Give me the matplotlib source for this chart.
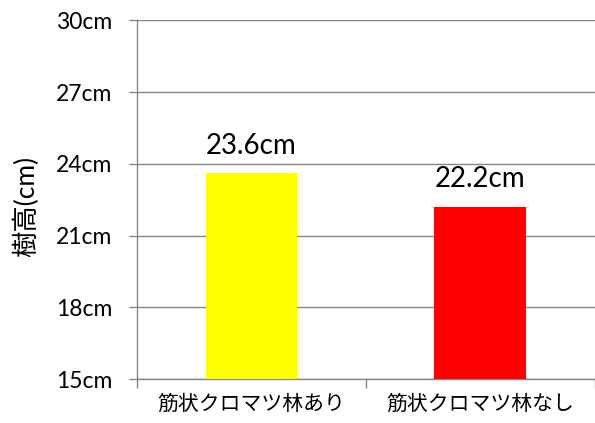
import matplotlib.pyplot as plt

# tree height by site
categories = ["筋状クロマツ林あり", "筋状クロマツ林なし"]
heights = [23.6, 22.2]
bar_colors = ["#FFFF00", "#FF0000"]
yticks = [15, 18, 21, 24, 27, 30]

plt.rcParams['font.family'] = ['Lato', 'Noto Sans CJK JP']
grey = "#868686"

fig = plt.figure(figsize=(5.95, 4.23), dpi=100)
ax = fig.add_axes([137/595, 44/423, 457.5/595, 358.5/423])

x = list(range(len(categories)))
ax.bar(x, heights, width=0.4, color=bar_colors, zorder=3)
for xi, h in zip(x, heights):
    ax.annotate("%.1fcm" % h, (xi, h), xytext=(0, 14), textcoords="offset points",
                ha="center", va="baseline", fontsize=20)

ax.set_xlim(-0.5, 1.5)
ax.set_ylim(15, 30)
ax.set_yticks(yticks)
ax.set_yticklabels(["%dcm" % v for v in yticks], fontsize=16.5)
ax.set_xticks(x)
ax.set_xticklabels(categories, fontsize=15, family=['Noto Sans CJK JP'])
ax.set_xticks([-0.5, 0.5, 1.5], minor=True)

ax.tick_params(axis="y", length=6, width=1, color=grey, pad=12)
ax.tick_params(axis="x", which="major", length=0, pad=10)
ax.tick_params(axis="x", which="minor", length=6.5, width=1, color=grey)

ax.grid(axis="y", color=grey, linewidth=1, zorder=0)
for side in ["top", "right"]:
    ax.spines[side].set_visible(False)
for side in ["left", "bottom"]:
    ax.spines[side].set_color(grey)
    ax.spines[side].set_linewidth(1)

fig.text(26/595, 1 - 206/423, "樹高(cm)", rotation=90, ha="center", va="center",
         fontsize=19)

fig.savefig("out.png", dpi=100)
